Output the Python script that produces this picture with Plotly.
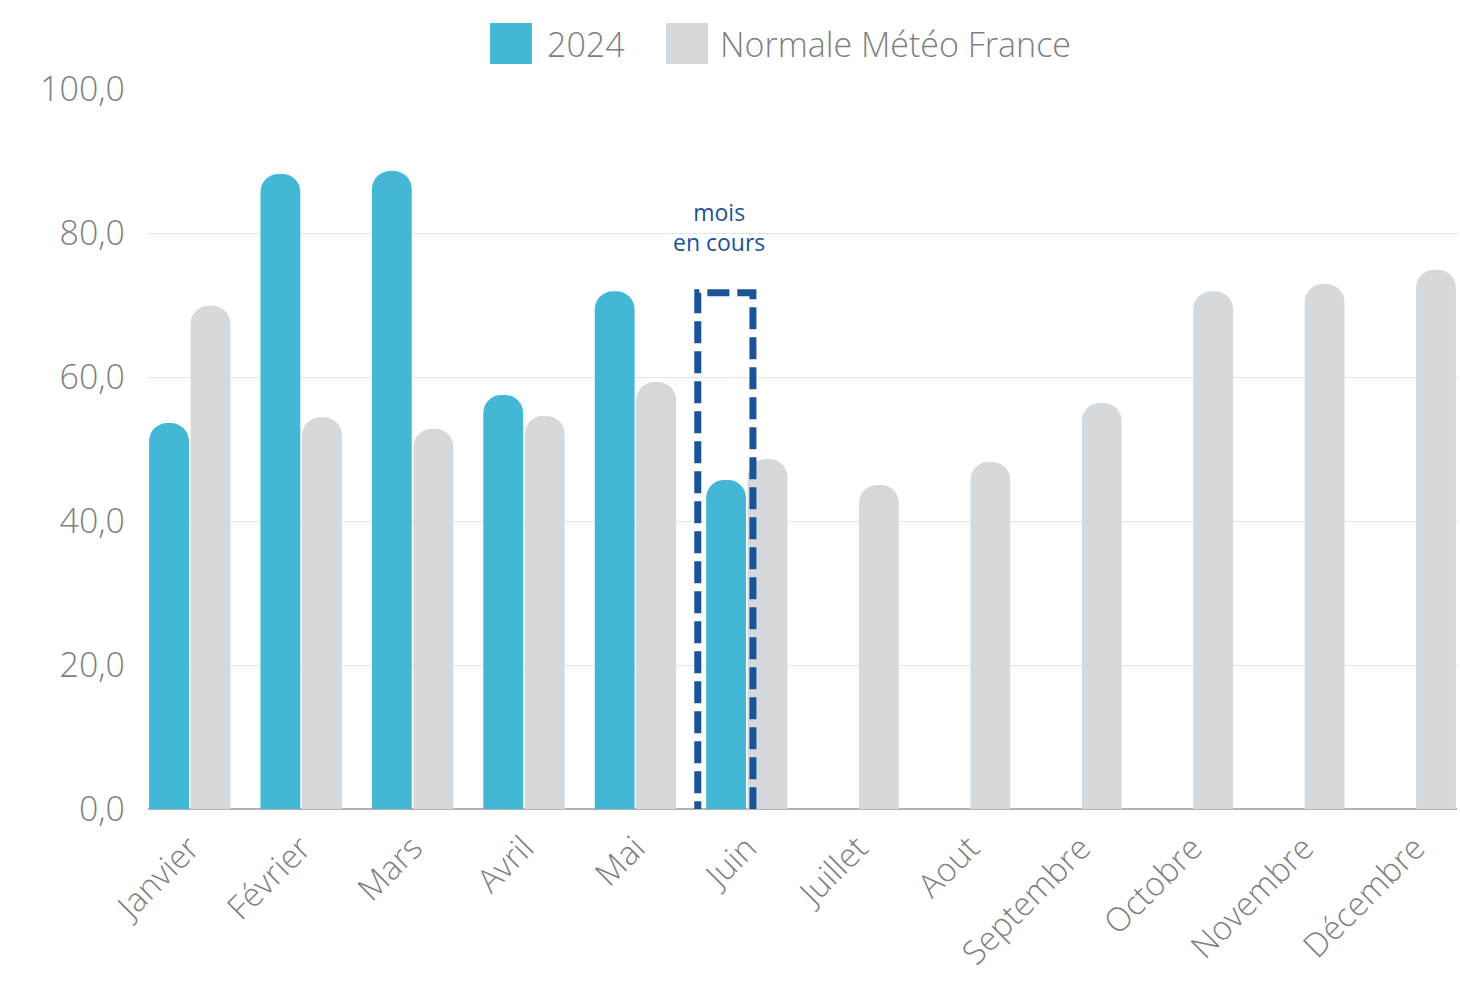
import plotly.graph_objects as go

# données mensuelles
mois = ["Janvier", "Février", "Mars", "Avril", "Mai", "Juin",
        "Juillet", "Aout", "Septembre", "Octobre", "Novembre", "Décembre"]
annee_2024 = [53.6, 88.2, 88.6, 57.5, 71.9, 45.7,
              None, None, None, None, None, None]
normale = [69.9, 54.4, 52.8, 54.6, 59.3, 48.6,
           45.0, 48.2, 56.4, 71.9, 72.9, 74.9]
y_ticks = [0, 20, 40, 60, 80, 100]

BLEU = "#42b8d6"
GRIS = "#d5d9dc"
BLEU_FONCE = "#1b5399"
TEXTE = "#7f7f7f"
FONT = "Open Sans"

fig = go.Figure()
fig.add_trace(go.Bar(x=mois, y=annee_2024, name="2024",
                     marker=dict(color=BLEU, cornerradius=18, line=dict(width=0))))
fig.add_trace(go.Bar(x=mois, y=normale, name="Normale Météo France",
                     marker=dict(color=GRIS, cornerradius=18, line=dict(width=0))))

# cadre pointillé autour du mois en cours
fig.add_shape(type="rect", xref="x", yref="y",
              x0=4.56, x1=5.055, y0=-0.7, y1=71.7,
              line=dict(color=BLEU_FONCE, width=7, dash="22px,8px"),
              fillcolor="rgba(0,0,0,0)", layer="above")

fig.add_annotation(x=4.75, y=80.8, xref="x", yref="y", text="mois<br>en cours",
                   showarrow=False, yanchor="middle",
                   font=dict(family=FONT, size=23, color=BLEU_FONCE))

# légende dessinée à la main (carrés plus grands que la légende plotly)
leg = [(BLEU, "2024", 0.2613, 0.2933, 0.3030),
       (GRIS, "Normale Météo France", 0.3957, 0.4278, 0.4355)]
for col, txt, sx0, sx1, tx in leg:
    fig.add_shape(type="rect", xref="paper", yref="paper",
                  x0=sx0, x1=sx1, y0=1.0347, y1=1.0917,
                  line=dict(width=0), fillcolor=col)
    fig.add_annotation(x=tx, y=1.0625, xref="paper", yref="paper", text=txt,
                       showarrow=False, xanchor="left", yanchor="middle",
                       font=dict(family=FONT, size=34, color=TEXTE, weight=300))

fig.update_layout(
    width=1460, height=995,
    margin=dict(l=148, r=3, t=89, b=186),
    paper_bgcolor="white", plot_bgcolor="white",
    barmode="group", bargap=0.255, bargroupgap=0.04,
    separators=", ",
    showlegend=False,
    font=dict(family=FONT, color=TEXTE),
)
fig.update_xaxes(type="category", range=[-0.375, 11.375], automargin=False,
                 tickangle=-45, tickfont=dict(family=FONT, size=33, color=TEXTE, weight=300),
                 ticklabelstandoff=12,
                 showgrid=False, showline=False, ticks="")
fig.update_yaxes(range=[0, 100], tickvals=y_ticks, tickformat=".1f", automargin=False,
                 tickfont=dict(family=FONT, size=34, color=TEXTE, weight=300),
                 ticklabelstandoff=22,
                 showgrid=True, gridcolor="#e3e3e3", gridwidth=1,
                 zeroline=True, zerolinecolor="#b3b3b3", zerolinewidth=2)

fig.write_html("out.html", config={"displayModeBar": False},
               post_script="document.body.style.margin='0';document.body.style.overflow='hidden';")
